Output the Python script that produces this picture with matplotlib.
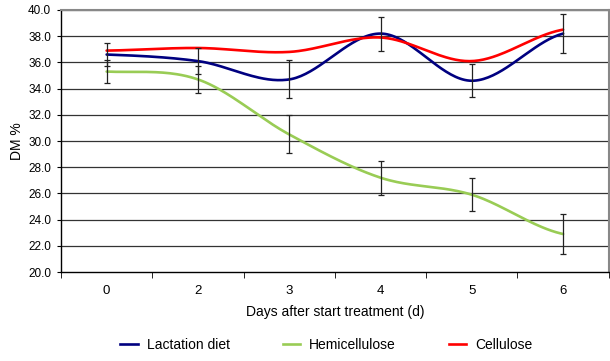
import numpy as np
import matplotlib
matplotlib.use("Agg")
import matplotlib.pyplot as plt
from matplotlib.lines import Line2D

plt.rcParams['font.family'] = ['Liberation Sans', 'DejaVu Sans']

days = ["0", "2", "3", "4", "5", "6"]
lactation = [36.6, 36.1, 34.7, 38.2, 34.6, 38.2]
hemicellulose = [35.3, 34.7, 30.5, 27.2, 25.9, 22.9]
cellulose = [36.9, 37.1, 36.8, 37.9, 36.1, 38.5]
err = [0.9, 1.0, 1.45, 1.3, 1.25, 1.5]

def smooth(xs, ys, n=40):
    xs = np.asarray(xs, float); ys = np.asarray(ys, float)
    px = np.concatenate([[2*xs[0]-xs[1]], xs, [2*xs[-1]-xs[-2]]])
    py = np.concatenate([[ys[0]], ys, [ys[-1]]])
    ox, oy = [], []
    for i in range(1, len(px)-2):
        p0, p1, p2, p3 = [np.array([px[j], py[j]]) for j in (i-1, i, i+1, i+2)]
        c1 = p1 + (p2 - p0) / 6.0
        c2 = p2 - (p3 - p1) / 6.0
        t = np.linspace(0, 1, n)[:, None]
        b = ((1-t)**3)*p1 + 3*((1-t)**2)*t*c1 + 3*(1-t)*t**2*c2 + t**3*p2
        ox.extend(b[:, 0]); oy.extend(b[:, 1])
    return np.array(ox), np.array(oy)

fig = plt.figure(figsize=(6.1, 3.61), dpi=100)
ax = fig.add_axes([0.1, 0.2465, 0.898, 0.7258])
x = np.arange(len(days))

for yv in np.arange(22, 40.1, 2):
    ax.axhline(yv, color='#333333', lw=0.9, zorder=1)

for vals, col in [(lactation, '#000080'), (hemicellulose, '#99CC55'), (cellulose, '#FF0000')]:
    sx, sy = smooth(x, vals)
    ax.plot(sx, sy, color=col, lw=1.9, zorder=3, solid_capstyle='round')

ax.errorbar(x, lactation, yerr=err, fmt='none', ecolor='#222222', elinewidth=0.9, capsize=2.5, capthick=0.9, zorder=4)
ax.errorbar(x, hemicellulose, yerr=err, fmt='none', ecolor='#222222', elinewidth=0.9, capsize=2.5, capthick=0.9, zorder=4)

ax.set_xlim(-0.5, len(days)-0.5)
ax.set_ylim(20, 40)
ax.set_yticks(np.arange(20, 40.1, 2))
ax.set_yticklabels([f"{v:.1f}" for v in np.arange(20, 40.1, 2)], fontsize=8.5)
ax.set_xticks(x)
ax.set_xticklabels(days, fontsize=9.5)
ax.set_xticks(np.arange(-0.5, len(days)), minor=True)
ax.tick_params(axis='x', which='major', length=0, pad=9)
ax.tick_params(axis='x', which='minor', length=4, direction='out', color='black')
ax.tick_params(axis='y', length=3, direction='out', color='black', pad=4)

for s in ['left', 'bottom']:
    ax.spines[s].set_color('black'); ax.spines[s].set_linewidth(1.0)
ax.spines['right'].set_color('#888888'); ax.spines['right'].set_linewidth(1.5)
ax.spines['top'].set_color('#888888'); ax.spines['top'].set_linewidth(1.5)

ax.set_ylabel("DM %", fontsize=10, labelpad=3)
ax.set_xlabel("Days after start treatment (d)", fontsize=10, labelpad=6)

handles = [Line2D([], [], color='#000080', lw=1.9),
           Line2D([], [], color='#99CC55', lw=1.9),
           Line2D([], [], color='#FF0000', lw=1.9)]
fig.legend(handles, ["Lactation diet", "Hemicellulose", "Cellulose"], loc='center',
           bbox_to_anchor=(0.535, 0.045), ncol=3, frameon=False, fontsize=10,
           handlelength=1.25, handletextpad=0.65, columnspacing=3.8)

fig.savefig("out.png", dpi=100)
